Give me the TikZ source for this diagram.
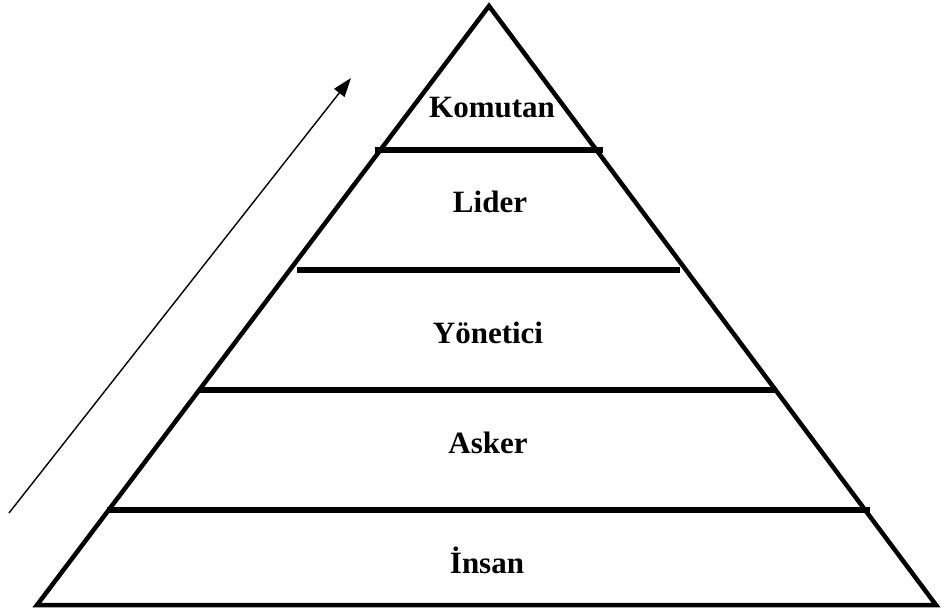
\documentclass[tikz,border=0pt]{standalone}
\usepackage{fontspec}
\setmainfont{Liberation Serif}
\usetikzlibrary{arrows.meta}
\begin{document}
\begin{tikzpicture}[x=1pt,y=-1pt,
  edge/.style={line width=4.5pt,line join=miter},
  level/.style={line width=5.5pt},
  lbl/.style={anchor=base,font=\fontsize{31}{37}\selectfont\bfseries,inner sep=0pt},
  up/.style={line width=1.4pt,-{Triangle[length=19pt,width=13pt]}}]
\useasboundingbox[fill=white] (0,0) rectangle (942,613);
\coordinate (apex) at (489,6);
\coordinate (bl) at (37,605);
\coordinate (br) at (936,605);
\draw[edge] (apex) -- (bl) -- (br) -- cycle;
\coordinate (l1a) at (375,150); \coordinate (l1b) at (603,150);
\coordinate (l2a) at (297,270); \coordinate (l2b) at (680,270);
\coordinate (l3a) at (200,390); \coordinate (l3b) at (776,390);
\coordinate (l4a) at (107,510); \coordinate (l4b) at (870,510);
\draw[level] (l1a) -- (l1b);
\draw[level] (l2a) -- (l2b);
\draw[level] (l3a) -- (l3b);
\draw[level] (l4a) -- (l4b);
\node[lbl] (komutan) at (492,117) {Komutan};
\node[lbl] (lider) at (490,212) {Lider};
\node[lbl] (yonetici) at (488,343) {Yönetici};
\node[lbl] (asker) at (488,453) {Asker};
\node[lbl] (insan) at (487,573) {İnsan};
\coordinate (tail) at (9,513);
\coordinate (tip) at (351,78);
\draw[up] (tail) -- (tip);
\end{tikzpicture}
\end{document}
